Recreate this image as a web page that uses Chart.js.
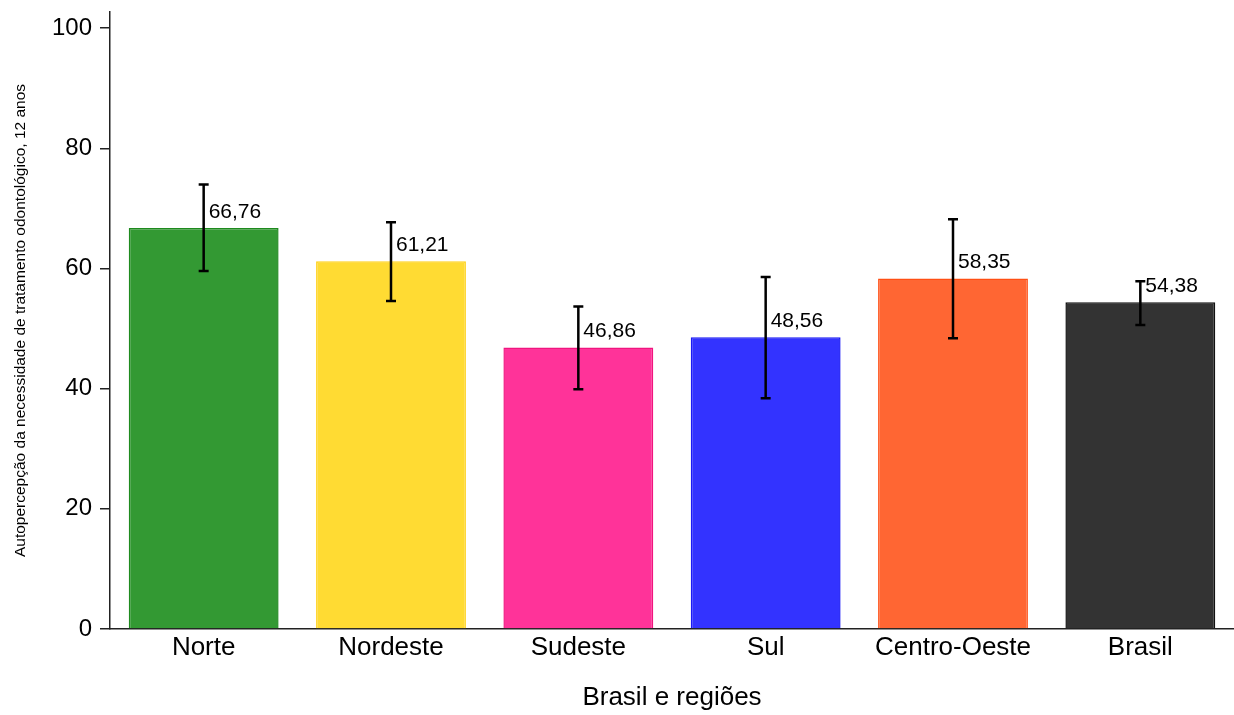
<!DOCTYPE html>
<html>
<head>
<meta charset="utf-8">
<script src="https://cdn.jsdelivr.net/npm/chart.js@4"></script>
<style>
  html, body { margin: 0; padding: 0; background: #fff; }
  #wrap { width: 1234px; height: 715px; }
</style>
</head>
<body>
<div id="wrap"><canvas id="grafico" width="1234" height="715"></canvas></div>
<script>
const categorias = ['Norte', 'Nordeste', 'Sudeste', 'Sul', 'Centro-Oeste', 'Brasil'];
const valores = [66.76, 61.21, 46.86, 48.56, 58.35, 54.38];
const limiteInferior = [59.6, 54.6, 39.9, 38.4, 48.4, 50.6];
const limiteSuperior = [74.0, 67.7, 53.7, 58.6, 68.2, 57.9];
const coresFundo = ['#339933', '#FFDB33', '#FF3399', '#3333FF', '#FF6633', '#333333'];
const coresBorda = ['#1E8A1E', '#FFD21A', '#F0157F', '#1A1AF5', '#FF4F14', '#111111'];
const ticksY = [0, 20, 40, 60, 80, 100];

const fonte = 'Arial, "Liberation Sans", Helvetica, sans-serif';

// error bars and value labels
const barrasErro = {
  id: 'barrasErro',
  afterDatasetsDraw(chart) {
    const ctx = chart.ctx;
    const y = chart.scales.y;
    const meta = chart.getDatasetMeta(0);
    ctx.save();
    meta.data.forEach((barra, i) => {
      const x = barra.x;
      const yTop = y.getPixelForValue(limiteSuperior[i]);
      const yBot = y.getPixelForValue(limiteInferior[i]);
      ctx.strokeStyle = '#000';
      ctx.lineWidth = 2.5;
      ctx.beginPath();
      ctx.moveTo(x, yTop); ctx.lineTo(x, yBot);
      ctx.moveTo(x - 5, yTop); ctx.lineTo(x + 5, yTop);
      ctx.moveTo(x - 5, yBot); ctx.lineTo(x + 5, yBot);
      ctx.stroke();

      ctx.fillStyle = '#000';
      ctx.font = '21px ' + fonte;
      ctx.textAlign = 'left';
      ctx.textBaseline = 'middle';
      ctx.fillText(valores[i].toFixed(2).replace('.', ','), x + 5, y.getPixelForValue(valores[i]) - 16);
    });
    ctx.restore();
  }
};

const ctx = document.getElementById('grafico').getContext('2d');
const myChart = new Chart(ctx, {
  type: 'bar',
  data: {
    labels: categorias,
    datasets: [{
      data: valores,
      backgroundColor: coresFundo,
      borderColor: coresBorda,
      borderWidth: 1.5,
      barPercentage: 0.8,
      categoryPercentage: 1.0,
    }],
  },
  options: {
    responsive: false,
    animation: false,
    layout: { padding: { top: 12, right: 0, bottom: 0, left: 0 } },
    plugins: {
      legend: { display: false },
      tooltip: { enabled: false },
    },
    scales: {
      x: {
        grid: { display: false, drawTicks: false },
        border: { display: true, color: '#222', width: 1.5 },
        ticks: { color: '#000', font: { size: 26, family: fonte }, padding: 3, maxRotation: 0 },
        title: {
          display: true,
          text: 'Brasil e regiões',
          color: '#000',
          font: { size: 26, family: fonte },
          padding: { top: 0, bottom: 2 },
        },
        afterFit(scale) {
          scale.height = 86;
          scale.paddingLeft = 0;
          scale.paddingRight = 0;
        },
      },
      y: {
        min: 0,
        max: 102.7,
        grid: { display: true, drawOnChartArea: false, tickLength: 10, color: '#222', lineWidth: 1.5 },
        border: { display: true, color: '#222', width: 1.5 },
        afterBuildTicks(scale) { scale.ticks = ticksY.map(v => ({ value: v })); },
        ticks: { color: '#000', font: { size: 24, family: fonte }, padding: 8 },
        title: {
          display: true,
          text: 'Autopercepção da necessidade de tratamento odontológico, 12 anos',
          color: '#000',
          font: { size: 15.5, family: fonte },
          padding: { top: 11, bottom: 0 },
        },
        afterFit(scale) {
          scale.width = 110;
          scale.paddingTop = 0;
          scale.paddingBottom = 0;
        },
      },
    },
  },
  plugins: [barrasErro],
});
</script>
</body>
</html>
